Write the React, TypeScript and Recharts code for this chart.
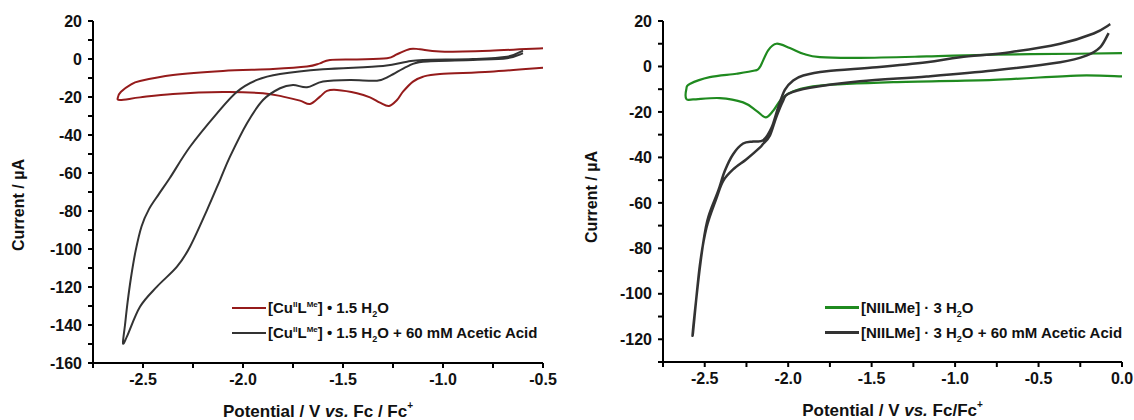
import React from 'react';
import { Label, Line, LineChart, XAxis, YAxis } from 'recharts';

// [potential (V vs Fc/Fc+), current (µA)]
const cuComplex: [number, number][] = [
  [-0.5, -4.6], [-0.765, -6.7], [-1.015, -7.9], [-1.1, -9.3], [-1.15, -11.9], [-1.2, -17.2],
  [-1.23, -21.6], [-1.27, -24.7], [-1.315, -23], [-1.365, -20.2], [-1.43, -18], [-1.53, -16.3],
  [-1.58, -16.8], [-1.615, -19.8], [-1.665, -23.7], [-1.715, -21.9], [-1.8, -19.8], [-1.9, -18],
  [-2.1, -17.4], [-2.35, -18.4], [-2.515, -20.2], [-2.615, -21.6], [-2.625, -20], [-2.61, -17.2],
  [-2.565, -13.7], [-2.515, -11.6], [-2.35, -8.4], [-2.1, -6.3], [-1.85, -5.3], [-1.68, -4.0],
  [-1.615, -2.3], [-1.565, -0.5], [-1.43, -0.2], [-1.28, 0.4], [-1.23, 2.5], [-1.165, 5.3],
  [-1.115, 5.1], [-1.015, 3.9], [-0.765, 4.4], [-0.5, 5.6],
];

const cuComplexAcid: [number, number][] = [
  [-0.6, 3.0], [-0.68, 0.4], [-0.85, -0.5], [-1.1, -1.4], [-1.18, -4.0], [-1.265, -8.9],
  [-1.33, -11.4], [-1.465, -11], [-1.6, -11.9], [-1.68, -14.9], [-1.75, -13.7], [-1.815, -15.4],
  [-1.9, -21.6], [-1.98, -33.8], [-2.065, -51.4], [-2.115, -63.7], [-2.18, -79.5], [-2.265, -98.8],
  [-2.33, -109.3], [-2.43, -119.8], [-2.515, -130.4], [-2.58, -146], [-2.6, -149.6], [-2.59, -140],
  [-2.577, -128], [-2.56, -115], [-2.537, -101], [-2.507, -88], [-2.47, -79], [-2.42, -71],
  [-2.365, -62.5], [-2.265, -46.2], [-2.13, -28.6], [-2.03, -17.2], [-1.93, -11], [-1.815, -7.9],
  [-1.6, -5.4], [-1.3, -3.7], [-1.18, -1.4], [-1.1, -0.5], [-0.85, 0], [-0.68, 1.2], [-0.6, 4.4],
];

const niComplex: [number, number][] = [
  [0.0, -4.4], [-0.27, -4.0], [-0.77, -5.9], [-1.37, -6.9], [-1.81, -8.4], [-1.97, -10.9],
  [-2.04, -14.3], [-2.09, -19.5], [-2.135, -22.4], [-2.19, -19.5], [-2.27, -15.8], [-2.41, -13.9],
  [-2.57, -14.5], [-2.61, -14.3], [-2.61, -9.9], [-2.59, -7.7], [-2.47, -4.7], [-2.31, -3.2],
  [-2.2, -1.8], [-2.17, -0.3], [-2.12, 7.1], [-2.07, 10.0], [-1.99, 8.1], [-1.91, 5.6],
  [-1.81, 4.1], [-1.57, 3.8], [-1.17, 4.4], [-0.77, 5.2], [-0.27, 5.6], [0.0, 5.9],
];

const niComplexAcid: [number, number][] = [
  [-0.08, 14.7], [-0.13, 8.5], [-0.21, 4.9], [-0.37, 1.9], [-0.77, -1.8], [-1.17, -4.4],
  [-1.57, -6.5], [-1.87, -9.4], [-2.0, -12.1], [-2.03, -15.0], [-2.07, -22], [-2.11, -30.5],
  [-2.15, -34], [-2.17, -35.7], [-2.25, -40.8], [-2.33, -45.3], [-2.39, -50.4], [-2.43, -58],
  [-2.49, -71], [-2.53, -88], [-2.57, -116.8], [-2.565, -112], [-2.525, -86], [-2.485, -68],
  [-2.42, -54.9], [-2.38, -46], [-2.33, -38.6], [-2.27, -33.9], [-2.21, -33], [-2.15, -32.5],
  [-2.1, -27], [-2.06, -18], [-2.02, -10.3], [-1.97, -6.2], [-1.91, -4.0], [-1.77, -2.1],
  [-1.47, -0.3], [-1.17, 1.9], [-0.97, 4.1], [-0.67, 6.3], [-0.37, 10.0], [-0.17, 14.5],
  [-0.07, 18.6],
];

const leftXTicks = [-2.75, -2.5, -2.25, -2.0, -1.75, -1.5, -1.25, -1.0, -0.75, -0.5];
const rightXTicks = [-2.75, -2.5, -2.25, -2.0, -1.75, -1.5, -1.25, -1.0, -0.75, -0.5, -0.25, 0.0];
const leftYTicks = [-160, -150, -140, -130, -120, -110, -100, -90, -80, -70, -60, -50, -40, -30, -20, -10, 0, 10, 20];
const rightYTicks = [-130, -120, -110, -100, -90, -80, -70, -60, -50, -40, -30, -20, -10, 0, 10, 20];

const FONT = '"Liberation Sans", Arial, Helvetica, sans-serif';
const RED = '#951b1b';
const GREEN = '#1f8a1f';
const DARK = '#333333';

const toRows = (pts: [number, number][]) => pts.map(([x, y]) => ({ x, y }));

// parametric Catmull-Rom so the CV loops stay smooth (x is not monotonic)
const smoothLoop: any = (ctx: any) => {
  let pts: [number, number][] = [];
  return {
    areaStart() {},
    areaEnd() {},
    lineStart() {
      pts = [];
    },
    point(x: number, y: number) {
      pts.push([+x, +y]);
    },
    lineEnd() {
      if (!pts.length) return;
      ctx.moveTo(pts[0][0], pts[0][1]);
      for (let i = 0; i < pts.length - 1; i++) {
        const p0 = pts[i - 1] || pts[i];
        const p1 = pts[i];
        const p2 = pts[i + 1];
        const p3 = pts[i + 2] || p2;
        ctx.bezierCurveTo(
          p1[0] + (p2[0] - p0[0]) / 6,
          p1[1] + (p2[1] - p0[1]) / 6,
          p2[0] - (p3[0] - p1[0]) / 6,
          p2[1] - (p3[1] - p1[1]) / 6,
          p2[0],
          p2[1],
        );
      }
    },
  };
};

const xFmt = (v: number) => (Math.abs(v * 2 - Math.round(v * 2)) < 1e-6 ? v.toFixed(1) : '');
const yFmt = (v: number) => (v % 20 === 0 ? String(v) : '');

const tickStyle = { fill: '#111', fontSize: 16, fontWeight: 700, fontFamily: FONT };
const axisStroke = { stroke: '#000', strokeWidth: 2 };

function XTitle({ viewBox, fc }: any) {
  const cx = viewBox.x + viewBox.width / 2;
  return (
    <text x={cx} y={viewBox.y + 54} textAnchor="middle" fontFamily={FONT} fontWeight={700} fontSize={17} fill="#111">
      <tspan>Potential / V </tspan>
      <tspan fontStyle="italic">vs.</tspan>
      <tspan>{fc}</tspan>
      <tspan fontSize={10} dy={-8}>+</tspan>
    </text>
  );
}

function YTitle({ x, y }: { x: number; y: number }) {
  return (
    <text
      x={x}
      y={y}
      transform={`rotate(-90 ${x} ${y})`}
      textAnchor="middle"
      dominantBaseline="middle"
      fontFamily={FONT}
      fontWeight={700}
      fontSize={16}
      fill="#111"
    >
      Current / µA
    </text>
  );
}

function LegendRow({ color, width, children }: { color: string; width: number; children: React.ReactNode }) {
  return (
    <div style={{ display: 'flex', alignItems: 'center', height: 25 }}>
      <div style={{ width: 34, height: width, background: color, marginRight: 2 }} />
      <span style={{ fontFamily: FONT, fontWeight: 700, fontSize: 15, color: '#111', whiteSpace: 'nowrap' }}>
        {children}
      </span>
    </div>
  );
}

const supStyle: React.CSSProperties = { fontSize: 8, verticalAlign: 'super', lineHeight: 0 };
const subStyle: React.CSSProperties = { fontSize: 9, verticalAlign: 'sub', lineHeight: 0 };

const CuName = () => (
  <>
    [Cu<span style={supStyle}>II</span>L<span style={supStyle}>Me</span>] • 1.5 H<span style={subStyle}>2</span>O
  </>
);
const NiName = () => (
  <>
    [NIILMe] · 3 H<span style={subStyle}>2</span>O
  </>
);

export default function App() {
  return (
    <div style={{ position: 'absolute', left: 0, top: 0, width: 1134, height: 420, background: '#fff' }}>
      <div style={{ position: 'absolute', left: 0, top: 0 }}>
        <LineChart width={567} height={420} margin={{ top: 21, right: 24, bottom: 0, left: 0 }}>
          <XAxis
            dataKey="x"
            type="number"
            domain={[-2.75, -0.5]}
            ticks={leftXTicks}
            interval={0}
            tickFormatter={xFmt}
            tick={tickStyle}
            tickSize={5}
            tickMargin={6}
            axisLine={axisStroke}
            tickLine={axisStroke}
            height={57}
            allowDataOverflow
          >
            <Label content={(p: any) => <XTitle viewBox={p.viewBox} fc=" Fc / Fc" />} />
          </XAxis>
          <YAxis
            type="number"
            domain={[-160, 20]}
            ticks={leftYTicks}
            interval={0}
            tickFormatter={yFmt}
            tick={tickStyle}
            tickSize={5}
            tickMargin={6}
            axisLine={axisStroke}
            tickLine={axisStroke}
            width={93}
            allowDataOverflow
          >
            <Label content={() => <YTitle x={20} y={205} />} />
          </YAxis>
          <Line data={toRows(cuComplex)} dataKey="y" type={smoothLoop} stroke={RED} strokeWidth={2} dot={false} isAnimationActive={false} />
          <Line data={toRows(cuComplexAcid)} dataKey="y" type={smoothLoop} stroke={DARK} strokeWidth={2} dot={false} isAnimationActive={false} />
        </LineChart>
        <div style={{ position: 'absolute', left: 232, top: 295 }}>
          <LegendRow color={RED} width={2}>
            <CuName />
          </LegendRow>
          <LegendRow color={DARK} width={2}>
            <CuName /> + 60 mM Acetic Acid
          </LegendRow>
        </div>
      </div>

      <div style={{ position: 'absolute', left: 567, top: 0 }}>
        <LineChart width={567} height={420} margin={{ top: 21, right: 12, bottom: 0, left: 0 }}>
          <XAxis
            dataKey="x"
            type="number"
            domain={[-2.75, 0]}
            ticks={rightXTicks}
            interval={0}
            tickFormatter={xFmt}
            tick={tickStyle}
            tickSize={5}
            tickMargin={6}
            axisLine={axisStroke}
            tickLine={axisStroke}
            height={58}
            allowDataOverflow
          >
            <Label content={(p: any) => <XTitle viewBox={p.viewBox} fc=" Fc/Fc" />} />
          </XAxis>
          <YAxis
            type="number"
            domain={[-130, 20]}
            ticks={rightYTicks}
            interval={0}
            tickFormatter={yFmt}
            tick={tickStyle}
            tickSize={5}
            tickMargin={6}
            axisLine={axisStroke}
            tickLine={axisStroke}
            width={96}
            allowDataOverflow
          >
            <Label content={() => <YTitle x={26} y={197} />} />
          </YAxis>
          <Line data={toRows(niComplex)} dataKey="y" type={smoothLoop} stroke={GREEN} strokeWidth={2.2} dot={false} isAnimationActive={false} />
          <Line data={toRows(niComplexAcid)} dataKey="y" type={smoothLoop} stroke={DARK} strokeWidth={2.5} dot={false} isAnimationActive={false} />
        </LineChart>
        <div style={{ position: 'absolute', left: 258, top: 295 }}>
          <LegendRow color={GREEN} width={3}>
            <NiName />
          </LegendRow>
          <LegendRow color={DARK} width={3.5}>
            <NiName /> + 60 mM Acetic Acid
          </LegendRow>
        </div>
      </div>
    </div>
  );
}
